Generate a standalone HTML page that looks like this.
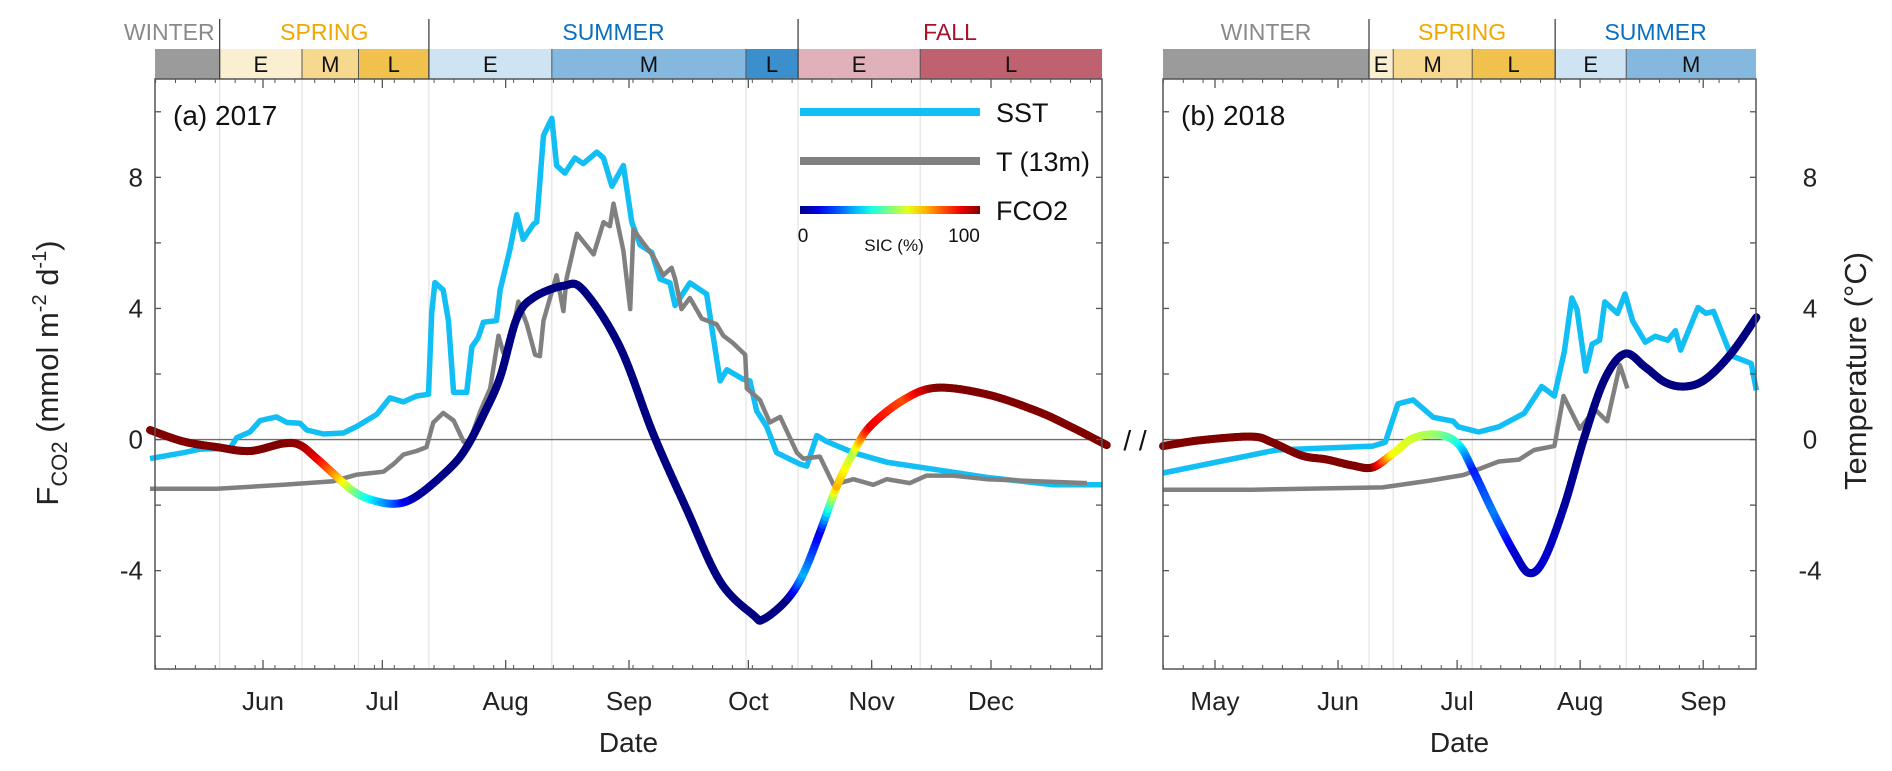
<!DOCTYPE html>
<html><head><meta charset="utf-8"><style>
html,body{margin:0;padding:0;background:#fff;}
svg{display:block;font-family:"Liberation Sans",Arial,sans-serif;}
</style></head><body>
<svg id="chart" width="1892" height="771" viewBox="0 0 1892 771" xmlns="http://www.w3.org/2000/svg">
<g id="bg"></g>
<g id="lines"></g>
<g id="fg"></g>
</svg>
<script>
// ---- data (x = day of year) ----
const monthNames = ["May","Jun","Jul","Aug","Sep","Oct","Nov","Dec"];
const monthDays = [135,166,196,227,258,288,319,349];
const yTicksLabeled = [-4,0,4,8];

const fcoA_x = [137.6,146,154.4,162.7,171.1,175.3,179.5,183.7,187.9,192.1,198.8,204.6,213,217.2,221.4,225.6,229.8,234,241.5,246.5,255.7,264.1,272.5,280.9,289.3,291.8,297.6,301.8,306,310.2,314.4,318.6,327,335.3,347.9,360.5,368.9,378.1];
const fcoA_y = [0.29,-0.06,-0.23,-0.35,-0.12,-0.17,-0.58,-1.04,-1.5,-1.79,-1.96,-1.73,-0.87,-0.23,0.75,1.9,3.7,4.33,4.69,4.56,2.83,0.17,-2.13,-4.33,-5.36,-5.48,-4.9,-4.1,-2.83,-1.44,-0.4,0.4,1.21,1.58,1.38,0.87,0.4,-0.17];
const fcoA_sic = [100,100,100,100,100,98,90,75,55,40,22,3,0,0,0,0,0,0,0,0,0,0,0,0,0,0,0,30,10,70,55,90,80,100,100,100,100,100];

const sstA_x = [137.6,146,150.2,157.7,159.4,162.7,165.3,169.4,172,175.3,177,181.2,186.2,189.6,194.6,197.9,201.3,204.6,207.6,208.4,209.2,211.3,212.6,213.9,217.2,218.5,220.1,221.4,224.7,225.6,228.1,229.8,231.4,234,234.8,236.5,238.6,239.8,241.9,244.4,246.5,249.9,251.6,253.7,256.6,258.7,260.8,263.7,265.8,268.3,269.6,273.3,277.5,280.9,282.6,286.7,288.4,290.1,292.6,295.1,301,302.7,305.2,307.7,314.4,322.8,335.3,347.9,364.7,376.9];
const sstA_y = [-0.58,-0.4,-0.29,-0.27,0.06,0.23,0.58,0.69,0.52,0.5,0.29,0.17,0.2,0.4,0.77,1.27,1.15,1.33,1.38,3.86,4.79,4.56,3.63,1.44,1.44,2.83,3.11,3.58,3.63,4.56,5.82,6.86,6.11,6.57,6.63,9.28,9.8,8.36,8.13,8.59,8.42,8.77,8.59,7.73,8.36,6.63,5.94,5.71,4.9,4.78,4.09,4.78,4.44,1.79,2.13,1.84,1.79,0.87,0.4,-0.4,-0.75,-0.81,0.12,-0.06,-0.4,-0.69,-0.92,-1.15,-1.38,-1.38];

const tA_x = [137.6,154.4,171.1,183.7,189.6,196.3,198.8,201.3,204.6,207.1,208.8,211.3,213.9,216.4,217.6,220.6,223.1,225.2,226.4,228.1,230.2,232.3,234.4,235.6,236.5,239.8,241.5,242.3,244.9,249.1,251.6,253.2,254.1,256.6,258.3,259.1,264.1,266.6,268.7,269.6,271.2,273.3,276.3,280,281.7,284.2,287.2,287.6,290.9,293.4,296,300.2,301.8,306,309.4,314.4,319.4,322.8,328.6,332.8,339.5,347.9,360.5,373.1];
const tA_y = [-1.5,-1.5,-1.38,-1.27,-1.07,-0.98,-0.75,-0.46,-0.35,-0.23,0.52,0.81,0.58,-0.06,-0.17,0.86,1.56,3.17,2.65,2.94,4.21,3.52,2.59,2.54,3.63,5.01,3.92,4.9,6.28,5.65,6.63,6.51,7.2,5.76,3.98,6.4,5.59,5.01,5.24,4.9,3.98,4.32,3.69,3.52,3.17,2.94,2.59,1.56,1.21,0.52,0.69,-0.4,-0.58,-0.52,-1.38,-1.21,-1.38,-1.21,-1.33,-1.1,-1.1,-1.21,-1.27,-1.33];

const fcoB_x = [121.9,131.4,144.2,149.3,156.9,163.2,169.6,174.7,179.8,184.9,191.2,196.3,200.1,205.2,210.3,214.1,217.9,223,228.1,233.2,238.3,243.4,248.5,253.6,258.7,265,271.4];
const fcoB_y = [-0.2,-0.02,0.09,-0.08,-0.49,-0.61,-0.79,-0.85,-0.43,0.04,0.15,-0.14,-0.96,-2.25,-3.43,-4.07,-3.66,-2.02,0.09,1.85,2.62,2.21,1.74,1.62,1.85,2.62,3.73];
const fcoB_sic = [100,100,100,100,100,100,100,100,62,58,52,40,15,25,8,5,8,3,0,0,0,0,0,0,0,0,0];

const sstB_x = [121.9,150.5,174.7,177.9,181.1,184.9,190,195,196.3,201.4,206.5,212.9,217.3,220.5,223,224.9,226.2,228.4,230,231.9,233.2,236.4,238.3,240.2,243.4,245.9,249.1,251,252.3,256.7,258.7,260.6,265,267.6,270.1,271.4];
const sstB_y = [-1.02,-0.32,-0.2,-0.08,1.09,1.21,0.68,0.56,0.39,0.23,0.39,0.8,1.62,1.33,2.68,4.32,3.97,2.09,2.91,3.03,4.2,3.85,4.44,3.62,2.97,3.15,3.03,3.32,2.73,4.03,3.85,3.91,2.56,2.44,2.32,1.5];

const tB_x = [121.9,144.2,177.2,188.7,197.6,206.5,211.6,215.4,220.5,222.8,226.9,230.7,233.8,237,238.9];
const tB_y = [-1.53,-1.53,-1.46,-1.26,-1.08,-0.67,-0.61,-0.32,-0.2,1.33,0.33,0.92,0.56,2.27,1.56];

// season bars (day of year boundaries)
const seasonA_bounds = [138.85,155.1,175.8,190.0,207.7,238.6,287.4,300.5,331.2,376.9];
const seasonA_sub = ["","E","M","L","E","M","L","E","L"];
const seasonA_col = ["#9b9b9b","#fbefd2","#f6d98f","#f0c14c","#cfe4f2","#84b8df","#3a8fcc","#e1b1ba","#c0616f"];
const seasonB_bounds = [121.9,173.8,179.9,199.8,220.7,238.6,271.3];
const seasonB_sub = ["","E","M","L","E","M"];
const seasonB_col = ["#9b9b9b","#fbefd2","#f6d98f","#f0c14c","#cfe4f2","#84b8df"];

// ---- axes ----
const Y0=79, Y1=669, VMIN=-7, VMAX=11;
function yS(v){return Y1-(v-VMIN)/(VMAX-VMIN)*(Y1-Y0);}
const A={x0:155,x1:1102,d0:138.85,d1:376.9};
const B={x0:1163,x1:1756,d0:121.9,d1:271.3};
function xS(p,d){return p.x0+(d-p.d0)/(p.d1-p.d0)*(p.x1-p.x0);}

const NS="http://www.w3.org/2000/svg";
function mk(tag,attrs,parent){const e=document.createElementNS(NS,tag);for(const k in attrs)e.setAttribute(k,attrs[k]);(parent||document.getElementById('chart')).appendChild(e);return e;}
const bg=document.getElementById('bg'), lines=document.getElementById('lines'), fg=document.getElementById('fg');

function jet(t){t=Math.max(0,Math.min(1,t));
  const r=Math.max(0,Math.min(1,Math.min(4*t-1.5,-4*t+4.5)));
  const g=Math.max(0,Math.min(1,Math.min(4*t-0.5,-4*t+3.5)));
  const b=Math.max(0,Math.min(1,Math.min(4*t+0.5,-4*t+2.5)));
  return `rgb(${Math.round(r*255)},${Math.round(g*255)},${Math.round(b*255)})`;}

function catmull(xs,ys,cs,n){const out=[];
  for(let i=0;i<xs.length-1;i++){
    const i0=Math.max(0,i-1),i3=Math.min(xs.length-1,i+2);
    for(let k=0;k<n;k++){const t=k/n,t2=t*t,t3=t2*t;
      const f=(p0,p1,p2,p3)=>0.5*((2*p1)+(-p0+p2)*t+(2*p0-5*p1+4*p2-p3)*t2+(-p0+3*p1-3*p2+p3)*t3);
      out.push([f(xs[i0],xs[i],xs[i+1],xs[i3]),f(ys[i0],ys[i],ys[i+1],ys[i3]),cs[i]+(cs[i+1]-cs[i])*t]);}
  }
  const L=xs.length-1;out.push([xs[L],ys[L],cs[L]]);return out;}

function drawPanel(p,seas,sub,col,sstX,sstY,tX,tY,fX,fY,fS,label,key){
  for(let i=1;i<seas.length-1;i++){
    const g=mk('line',{x1:xS(p,seas[i]),x2:xS(p,seas[i]),y1:Y0,y2:Y1,stroke:'#e3e3e3','stroke-width':1.2},bg);
    
    
  }
  const z=mk('line',{x1:p.x0,x2:p.x1,y1:yS(0),y2:yS(0),stroke:'#6e6e6e','stroke-width':1.3},bg);
  
  
  for(let i=0;i<seas.length-1;i++){
    const xa=xS(p,seas[i]),xb=xS(p,seas[i+1]);
    const r=mk('rect',{x:xa,y:49,width:xb-xa,height:30,fill:col[i]},bg);
    
    
    if(i>0){mk('line',{x1:xa,x2:xa,y1:49,y2:79,stroke:'#555','stroke-width':1},bg);}
    if(sub[i]){const t=mk('text',{x:(xa+xb)/2,y:72,'text-anchor':'middle','font-size':22,fill:'#111'},bg);t.textContent=sub[i];
      
      }
  }
  let d='';sstX.forEach((x,i)=>{d+=(i?'L':'M')+xS(p,x).toFixed(1)+','+yS(sstY[i]).toFixed(1);});
  const s=mk('path',{d:d,fill:'none',stroke:'#12bff5','stroke-width':5.5,'stroke-linejoin':'round'},lines);
  
  
  d='';tX.forEach((x,i)=>{d+=(i?'L':'M')+xS(p,x).toFixed(1)+','+yS(tY[i]).toFixed(1);});
  const t=mk('path',{d:d,fill:'none',stroke:'#808080','stroke-width':4.5,'stroke-linejoin':'round'},lines);
  
  
  const pts=catmull(fX,fY,fS,12);
  const gF=mk('g',{},lines);
  
  
  for(let i=0;i<pts.length-1;i++){
    mk('line',{x1:xS(p,pts[i][0]),y1:yS(pts[i][1]),x2:xS(p,pts[i+1][0]),y2:yS(pts[i+1][1]),stroke:jet(pts[i][2]/100),'stroke-width':8,'stroke-linecap':'round'},gF);
  }
  const ax=mk('rect',{x:p.x0,y:Y0,width:p.x1-p.x0,height:Y1-Y0,fill:'none',stroke:'#555','stroke-width':1.5},fg);
  
  
  for(let v=-6;v<=10;v+=2){const y=yS(v);
    mk('line',{x1:p.x0,x2:p.x0+6,y1:y,y2:y,stroke:'#555','stroke-width':1.3},fg);
    mk('line',{x1:p.x1,x2:p.x1-6,y1:y,y2:y,stroke:'#555','stroke-width':1.3},fg);}
  for(let dd=Math.ceil(p.d0);dd<p.d1;dd+=5){const x=xS(p,dd);
    mk('line',{x1:x,x2:x,y1:Y1,y2:Y1-4,stroke:'#555','stroke-width':1},fg);
    mk('line',{x1:x,x2:x,y1:Y0,y2:Y0+4,stroke:'#555','stroke-width':1},fg);}
  monthDays.forEach((md,i)=>{if(md<p.d0||md>p.d1)return;const x=xS(p,md);
    mk('line',{x1:x,x2:x,y1:Y1,y2:Y1-9,stroke:'#555','stroke-width':1.3},fg);
    mk('line',{x1:x,x2:x,y1:Y0,y2:Y0+9,stroke:'#555','stroke-width':1.3},fg);
    const tl=mk('text',{x:x,y:710,'text-anchor':'middle','font-size':26,fill:'#222'},fg);tl.textContent=monthNames[i];
    
    });
  const xt=mk('text',{x:(p.x0+p.x1)/2,y:752,'text-anchor':'middle','font-size':28,fill:'#222'},fg);xt.textContent='Date';
  
  
  const pl=mk('text',{x:p.x0+18,y:125,'font-size':28,fill:'#111'},fg);pl.textContent=label;
  
  
}

drawPanel(A,seasonA_bounds,seasonA_sub,seasonA_col,sstA_x,sstA_y,tA_x,tA_y,fcoA_x,fcoA_y,fcoA_sic,'(a) 2017','a');
drawPanel(B,seasonB_bounds,seasonB_sub,seasonB_col,sstB_x,sstB_y,tB_x,tB_y,fcoB_x,fcoB_y,fcoB_sic,'(b) 2018','b');

const seasonTitles=[
 [A,[138.85,155.1],'WINTER','#8a8a8a','end'],[A,[155.1,207.7],'SPRING','#f0a800','middle'],[A,[207.7,300.5],'SUMMER','#0b6fc0','middle'],[A,[300.5,376.9],'FALL','#a3142d','middle'],
 [B,[121.9,173.8],'WINTER','#8a8a8a','middle'],[B,[173.8,220.7],'SPRING','#f0a800','middle'],[B,[220.7,271.3],'SUMMER','#0b6fc0','middle']];
seasonTitles.forEach(s=>{const p=s[0];const xa=xS(p,s[1][0]),xb=xS(p,s[1][1]);
  const x=s[4]==='end'?xb-5:(xa+xb)/2;
  const t=mk('text',{x:x,y:40,'text-anchor':s[4],'font-size':23,fill:s[3]},fg);t.textContent=s[2];
  
  
  if(s[1][0]>p.d0+1){mk('line',{x1:xa,x2:xa,y1:19,y2:79,stroke:'#444','stroke-width':1.3},fg);}
});

yTicksLabeled.forEach(v=>{const t=mk('text',{x:143,y:yS(v)+9,'text-anchor':'end','font-size':26,fill:'#222'},fg);t.textContent=v;
  
  
  const r=mk('text',{x:1810,y:yS(v)+9,'text-anchor':'middle','font-size':26,fill:'#222'},fg);r.textContent=v;
  
  });
</script>
<script>
const f=document.getElementById('fg');
function add(tag,attrs,txt){const e=document.createElementNS("http://www.w3.org/2000/svg",tag);for(const k in attrs)e.setAttribute(k,attrs[k]);if(txt)e.textContent=txt;f.appendChild(e);return e;}
const yl=add('text',{transform:'translate(58,373) rotate(-90)','text-anchor':'middle','font-size':31,fill:'#222'});


yl.innerHTML='F<tspan font-size="22" dy="9">CO2</tspan><tspan dy="-9"> (mmol m</tspan><tspan font-size="20" dy="-12">-2</tspan><tspan dy="12"> d</tspan><tspan font-size="20" dy="-12">-1</tspan><tspan dy="12">)</tspan>';
const yr=add('text',{transform:'translate(1866,371) rotate(-90)','text-anchor':'middle','font-size':31,fill:'#222'},'Temperature (°C)');


const brk=add('text',{x:1135,y:450,'text-anchor':'middle','font-size':28,fill:'#111'},'/ /');


const l1=add('line',{x1:800,x2:980,y1:112,y2:112,stroke:'#12bff5','stroke-width':8});


const t1=add('text',{x:996,y:122,'font-size':27,fill:'#111'},'SST');


const l2=add('line',{x1:800,x2:980,y1:161,y2:161,stroke:'#808080','stroke-width':8});


const t2=add('text',{x:996,y:171,'font-size':27,fill:'#111'},'T (13m)');


const defs=add('defs',{});
const lg=document.createElementNS("http://www.w3.org/2000/svg",'linearGradient');lg.setAttribute('id','jetg');defs.appendChild(lg);
for(let i=0;i<=10;i++){const st=document.createElementNS("http://www.w3.org/2000/svg",'stop');st.setAttribute('offset',i/10);st.setAttribute('stop-color',jet(i/10));lg.appendChild(st);}
const cb=add('rect',{x:800,y:206,width:180,height:8,fill:'url(#jetg)'});


const t3=add('text',{x:996,y:220,'font-size':27,fill:'#111'},'FCO2');


const t4=add('text',{x:803,y:242,'text-anchor':'middle','font-size':19,fill:'#111'},'0');


const t5=add('text',{x:964,y:242,'text-anchor':'middle','font-size':19,fill:'#111'},'100');


const t6=add('text',{x:894,y:251,'text-anchor':'middle','font-size':17,fill:'#111'},'SIC (%)');


</script>
</body></html>
